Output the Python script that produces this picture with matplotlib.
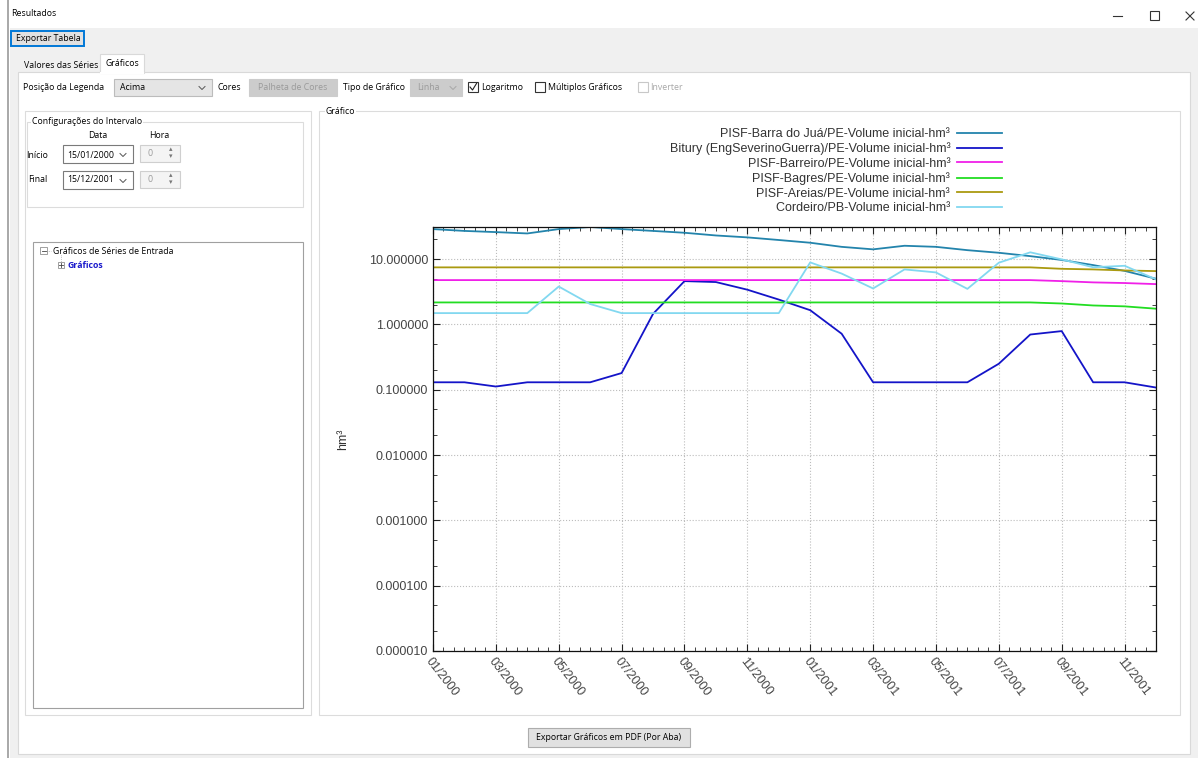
import matplotlib
matplotlib.use("Agg")
import matplotlib.pyplot as plt
from matplotlib.patches import Rectangle
from matplotlib.ticker import FixedLocator, LogLocator, NullFormatter, FormatStrFormatter
import numpy as np

# data (monthly, hm³)
months = ["01/2000", "02/2000", "03/2000", "04/2000", "05/2000", "06/2000",
          "07/2000", "08/2000", "09/2000", "10/2000", "11/2000", "12/2000",
          "01/2001", "02/2001", "03/2001", "04/2001", "05/2001", "06/2001",
          "07/2001", "08/2001", "09/2001", "10/2001", "11/2001", "12/2001"]

barra_jua = [28.8, 27.0, 25.9, 24.7, 28.8, 31.0, 28.8, 27.0, 25.3, 23.0, 21.5, 19.6,
             17.8, 15.4, 14.1, 16.0, 15.4, 13.7, 12.5, 11.1, 9.7, 8.1, 6.6, 5.0]
bitury = [0.13, 0.13, 0.112, 0.13, 0.13, 0.13, 0.18, 1.45, 4.6, 4.45, 3.4, 2.4,
          1.65, 0.72, 0.13, 0.13, 0.13, 0.13, 0.25, 0.70, 0.79, 0.13, 0.13, 0.108]
barreiro = [4.77, 4.77, 4.77, 4.77, 4.77, 4.77, 4.77, 4.77, 4.77, 4.77, 4.77, 4.77,
            4.77, 4.77, 4.77, 4.77, 4.77, 4.77, 4.77, 4.77, 4.6, 4.4, 4.3, 4.14]
bagres = [2.17, 2.17, 2.17, 2.17, 2.17, 2.17, 2.17, 2.17, 2.17, 2.17, 2.17, 2.17,
          2.17, 2.17, 2.17, 2.17, 2.17, 2.17, 2.17, 2.17, 2.09, 1.95, 1.89, 1.74]
areias = [7.47, 7.47, 7.47, 7.47, 7.47, 7.47, 7.47, 7.47, 7.47, 7.47, 7.47, 7.47,
          7.47, 7.47, 7.47, 7.47, 7.47, 7.47, 7.47, 7.47, 7.1, 6.95, 6.7, 6.55]
cordeiro = [1.49, 1.49, 1.49, 1.49, 3.8, 2.05, 1.49, 1.49, 1.49, 1.49, 1.49, 1.49,
            8.9, 6.0, 3.55, 6.95, 6.25, 3.5, 8.8, 12.7, 9.9, 7.5, 7.9, 4.9]

series_names = ["PISF-Barra do Juá/PE-Volume inicial-hm³",
                "Bitury (EngSeverinoGuerra)/PE-Volume inicial-hm³",
                "PISF-Barreiro/PE-Volume inicial-hm³",
                "PISF-Bagres/PE-Volume inicial-hm³",
                "PISF-Areias/PE-Volume inicial-hm³",
                "Cordeiro/PB-Volume inicial-hm³"]
series_values = [barra_jua, bitury, barreiro, bagres, areias, cordeiro]
series_colors = ["#2384ac", "#1414c8", "#f020e8", "#22dd22", "#aa9a10", "#82d8f0"]

W, H = 1198, 758
UI_FONT = ["Open Sans", "DejaVu Sans"]
CHART_FONT = "Liberation Sans"

fig = plt.figure(figsize=(W / 100, H / 100), dpi=100, facecolor="white")

# ---- window / widgets drawn on a full-figure pixel canvas
ui = fig.add_axes([0, 0, 1, 1], zorder=0)
ui.set_xlim(0, W)
ui.set_ylim(H, 0)
ui.axis("off")


def box(x0, y0, x1, y1, fc="white", ec="#d8d8d8", lw=0.8, z=1):
    ui.add_patch(Rectangle((x0, y0), x1 - x0, y1 - y0, facecolor=fc,
                           edgecolor=ec, linewidth=lw, zorder=z))


def txt(x, y, s, size=6.3, color="black", **kw):
    kw.setdefault("ha", "left")
    kw.setdefault("va", "center")
    ui.text(x, y, s, fontsize=size, color=color, family=UI_FONT, zorder=5, **kw)


def chevron(x, y, color="#555555"):
    ui.plot([x - 3, x, x + 3], [y - 1.5, y + 1.5, y - 1.5], color=color, lw=0.7, zorder=5)


def checkbox(x, y, checked=False, color="#333333"):
    box(x, y - 5, x + 10, y + 5, fc="white", ec=color, lw=0.8, z=4)
    if checked:
        ui.plot([x + 2, x + 4.5, x + 8.5], [y, y + 3, y - 3.5], color="#222222", lw=0.8, zorder=5)


def spin(x0, y0, x1, y1):
    box(x0, y0, x1, y1, fc="#f4f4f4", ec="#cfcfcf", lw=0.8)
    txt(x0 + 7, (y0 + y1) / 2, "0", color="#9a9a9a")
    txt(x1 - 9, y0 + 5, "▴", size=5, color="#777777", ha="center")
    txt(x1 - 9, y1 - 5, "▾", size=5, color="#777777", ha="center")


# background strips
box(0, 0, W, 28, fc="white", ec="none", lw=0, z=0)
box(10, 28, W, H, fc="#f0f0f0", ec="none", lw=0, z=0)
ui.plot([8, 8], [0, H], color="#9a9a9a", lw=1.2, zorder=1)
box(18, 72, 1190, 754, fc="white", ec="#d9d9d9", lw=0.8)

txt(11, 13, "Resultados")
# title bar buttons
ui.plot([1113, 1122], [16, 16], color="#333333", lw=0.8, zorder=5)
box(1150, 11, 1159, 20, fc="none", ec="#333333", lw=0.8, z=5)
ui.plot([1186, 1194], [12, 20], color="#333333", lw=0.8, zorder=5)
ui.plot([1186, 1194], [20, 12], color="#333333", lw=0.8, zorder=5)

box(11, 31, 84, 46, fc="#e1e1e1", ec="#0078d7", lw=1.4)
txt(16, 38.5, "Exportar Tabela")

# tabs
txt(24, 65, "Valores das Séries")
box(100, 54, 144, 73, fc="white", ec="#d9d9d9", lw=0.8, z=2)
ui.plot([101, 143], [72.5, 72.5], color="white", lw=1.5, zorder=3)
txt(105, 64, "Gráficos")

# toolbar row
txt(23, 87, "Posição da Legenda")
box(114, 79, 212, 96, fc="#e5e5e5", ec="#bcbcbc", lw=0.8)
txt(120, 88, "Acima")
chevron(202, 88)
txt(217, 87, "Cores")
box(249, 79, 337, 96, fc="#cccccc", ec="#cccccc", lw=0.8)
txt(258, 87, "Palheta de Cores", color="#9a9a9a")
txt(343, 87, "Tipo de Gráfico")
box(410, 79, 462, 96, fc="#cccccc", ec="#cccccc", lw=0.8)
txt(417, 87, "Linha", color="#9a9a9a")
chevron(453, 88, color="#a8a8a8")
checkbox(468, 87, checked=True)
txt(481, 87, "Logaritmo")
checkbox(535, 87)
txt(548, 87, "Múltiplos Gráficos")
checkbox(638, 87, color="#c8c8c8")
txt(650, 87, "Inverter", color="#a8a8a8")

# left panel
box(25, 111, 311, 715, fc="white", ec="#dcdcdc", lw=0.8)
box(27, 122, 303, 207, fc="white", ec="#dcdcdc", lw=0.8)
txt(32, 122, "Configurações do Intervalo", bbox=dict(fc="white", ec="none", pad=0.5))
txt(88, 136, "Data")
txt(149, 136, "Hora")
txt(26, 155, "Início")
box(63, 145, 133, 163, fc="white", ec="#7a7a7a", lw=0.8)
txt(67, 155, "15/01/2000")
chevron(123, 155)
spin(140, 145, 180, 162)
txt(28, 180, "Final")
box(63, 171, 133, 189, fc="white", ec="#7a7a7a", lw=0.8)
txt(67, 180, "15/12/2001")
chevron(123, 181)
spin(140, 171, 180, 188)

box(33, 242, 303, 708, fc="white", ec="#a0a0a0", lw=0.8)
box(40, 247, 47, 254, fc="white", ec="#909090", lw=0.6, z=4)
ui.plot([41.5, 45.5], [250.5, 250.5], color="#444444", lw=0.6, zorder=5)
ui.plot([47, 51], [250.5, 250.5], color="#909090", lw=0.5, ls=":", zorder=5)
txt(53, 251, "Gráficos de Séries de Entrada")
ui.plot([61, 61], [255, 262], color="#909090", lw=0.5, ls=":", zorder=5)
box(58, 262, 64, 268, fc="white", ec="#909090", lw=0.6, z=4)
ui.plot([59, 63], [265, 265], color="#444444", lw=0.6, zorder=5)
ui.plot([61, 61], [263, 267], color="#444444", lw=0.6, zorder=5)
txt(68, 265, "Gráficos", color="#1a1acc", fontweight="bold")

# chart group
box(319, 111, 1180, 715, fc="white", ec="#dcdcdc", lw=0.8)
txt(326, 111, "Gráfico", bbox=dict(fc="white", ec="none", pad=0.5))

# bottom button
box(528, 728, 690, 747, fc="#e1e1e1", ec="#adadad", lw=0.8)
txt(609, 738, "Exportar Gráficos em PDF (Por Aba)", ha="center")

# ---- the chart
left, right, top, bottom = 433, 1156, 227, 651
ax = fig.add_axes([left / W, 1 - bottom / H, (right - left) / W, (bottom - top) / H], zorder=2)
x = np.arange(len(months))
lines = []
for name, vals, col in zip(series_names, series_values, series_colors):
    ln, = ax.plot(x, vals, color=col, lw=1.3, label=name)
    lines.append(ln)

ax.set_yscale("log")
ax.set_xlim(0, len(months) - 1)
ax.set_ylim(1e-5, max(max(v) for v in series_values))
ax.xaxis.set_major_locator(FixedLocator(x[::2]))
ax.set_xticklabels(months[::2])
ax.xaxis.set_minor_locator(FixedLocator(np.arange(0, len(months) - 1 + 1e-9, 1 / 3)))
ax.yaxis.set_major_locator(LogLocator(base=10, numticks=20))
ax.yaxis.set_minor_locator(LogLocator(base=10, subs=(2.0, 5.0), numticks=20))
ax.yaxis.set_major_formatter(FormatStrFormatter("%.6f"))
ax.yaxis.set_minor_formatter(NullFormatter())
ax.grid(True, which="major", color="#bcbcbc", ls=":", lw=0.8)
ax.tick_params(which="both", direction="in", top=True, right=True, colors="#222222",
               labelcolor="#444444", labelsize=9)
ax.tick_params(which="major", length=5, width=0.8)
ax.tick_params(which="minor", length=3, width=0.6)
for lab in ax.get_xticklabels() + ax.get_yticklabels():
    lab.set_family(CHART_FONT)
for lab in ax.get_xticklabels():
    lab.set_rotation(-52)
    lab.set_ha("left")
    lab.set_va("top")
    lab.set_rotation_mode("anchor")
for sp in ax.spines.values():
    sp.set_color("#111111")
    sp.set_linewidth(0.9)
ax.set_ylabel("hm³", family=CHART_FONT, fontsize=9, color="#333333", labelpad=14)

fig.legend(handles=lines, loc="upper right", bbox_to_anchor=(1002 / W, 1 - 128 / H),
           frameon=False, markerfirst=False, borderaxespad=0, borderpad=0,
           handlelength=3.6, handletextpad=0.55, labelspacing=0.2,
           prop=dict(family=CHART_FONT, size=9), labelcolor="#333333")

fig.savefig("out.png", dpi=100, facecolor="white")
